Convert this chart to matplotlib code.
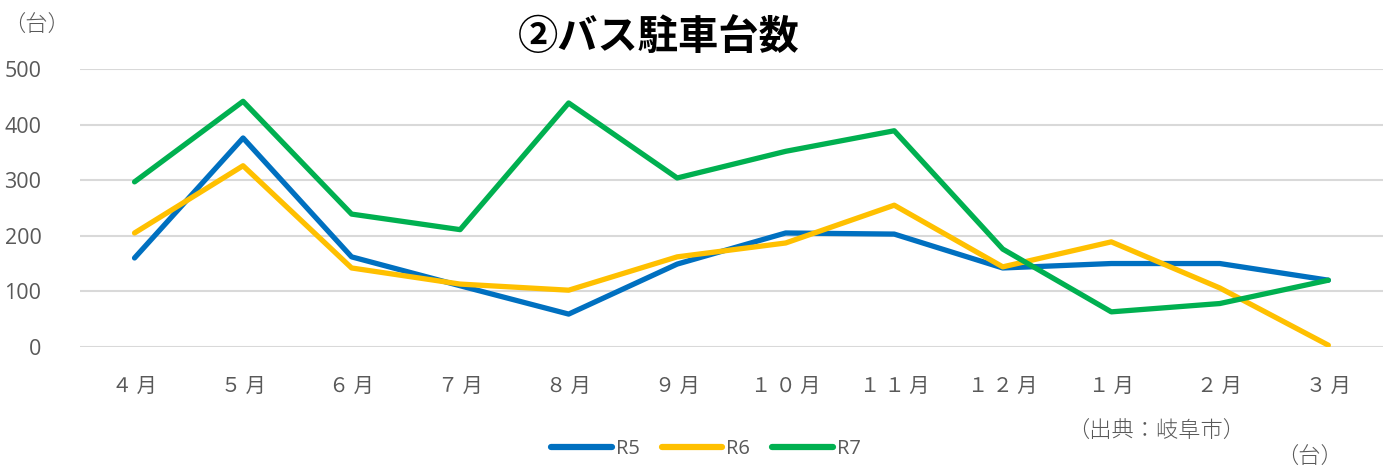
import numpy as np
import matplotlib.pyplot as plt
from matplotlib.lines import Line2D

plt.rcParams['font.family'] = ['Noto Sans CJK JP', 'DejaVu Sans']

# データ
months = ['４月', '５月', '６月', '７月', '８月', '９月', '１０月', '１１月', '１２月', '１月', '２月', '３月']
r5 = [160, 376, 162, 110, 59, 149, 205, 203, 142, 150, 150, 120]
r6 = [205, 326, 142, 113, 102, 162, 187, 255, 144, 189, 106, 3]
r7 = [297, 442, 239, 211, 439, 304, 352, 389, 176, 63, 78, 120]
series = ['R5', 'R6', 'R7']
colors = ['#0070C0', '#FFC000', '#00B050']
yticks = [0, 100, 200, 300, 400, 500]

gray = '#595959'

fig = plt.figure(figsize=(13.84, 4.70), dpi=100)
ax = fig.add_axes([0.058, 0.262, 0.941, 0.591])

x = np.arange(len(months))
for vals, c, name in zip([r5, r6, r7], colors, series):
    ax.plot(x, vals, color=c, lw=3.8, solid_capstyle='round',
            solid_joinstyle='round', label=name, zorder=3)

ax.set_xlim(-0.5, len(months) - 0.5)
ax.set_ylim(0, 500)
ax.set_yticks(yticks)
ax.set_xticks(x)
# 全角数字の間隔を広げる
ax.set_xticklabels([' '.join(m) for m in months], color=gray, fontsize=14.5)
ax.set_yticklabels([str(v) for v in yticks], color=gray, fontsize=15.5,
                   family=['Open Sans', 'DejaVu Sans'])
ax.tick_params(axis='both', length=0)
ax.tick_params(axis='x', pad=21)
ax.tick_params(axis='y', pad=28)
ax.grid(axis='y', color='#D9D9D9', lw=1.5, zorder=0)
ax.set_axisbelow(True)
for s in ax.spines.values():
    s.set_visible(False)

fig.text(0.476, 0.918, '②バス駐車台数', ha='center', va='center',
         fontsize=29, fontweight='bold', color='black')
fig.text(0.002, 0.945, '（台）', ha='left', va='center', fontsize=16,
         color=gray, fontweight='light')
fig.text(0.771, 0.08, '（出典：岐阜市）', ha='left', va='center', fontsize=16,
         color=gray, fontweight='light')
fig.text(0.922, 0.025, '（台）', ha='left', va='center', fontsize=16,
         color=gray, fontweight='light')

handles = [Line2D([0], [0], color=c, lw=4.5, solid_capstyle='round') for c in colors]
leg = fig.legend(handles, series, loc='center', bbox_to_anchor=(0.51, 0.045),
                 ncol=3, frameon=False, handlelength=3.0, handletextpad=0.2,
                 columnspacing=1.1, prop={'family': ['Open Sans', 'DejaVu Sans'], 'size': 14.5})
for t in leg.get_texts():
    t.set_color(gray)

fig.savefig('out.png', dpi=100)
